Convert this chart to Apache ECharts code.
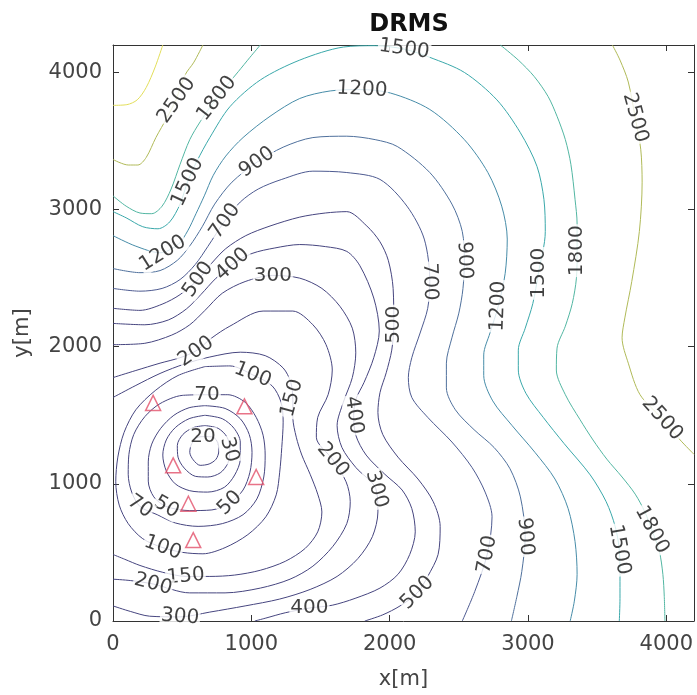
<!DOCTYPE html>
<html>
<head>
<meta charset="utf-8">
<title>DRMS</title>
<script src="https://cdn.jsdelivr.net/npm/echarts@6/dist/echarts.min.js"></script>
<style>
  html, body { margin: 0; padding: 0; background: #fff; }
  #chart { width: 697px; height: 695px; }
</style>
</head>
<body>
<div id="chart"></div>
<script>
// contour lines, [x, y] in metres
const c20 = [[665,1345],[725,1340],[760,1295],[765,1240],[745,1180],[695,1145],[630,1135],[580,1175],[555,1230],[570,1295],[615,1340],[665,1345]];
const c30 = [[665,1425],[760,1405],[825,1340],[845,1245],[830,1150],[775,1080],[685,1050],[595,1055],[515,1115],[470,1195],[465,1280],[505,1360],[580,1410],[665,1425]];
const c40 = [[665,1500],[790,1475],[875,1405],[920,1305],[920,1180],[880,1065],[805,975],[685,940],[555,950],[450,1000],[385,1095],[360,1210],[385,1320],[450,1410],[550,1475],[665,1500]];
const c50 = [[665,1570],[810,1550],[920,1475],[985,1360],[1005,1230],[990,1085],[940,955],[845,860],[715,810],[555,805],[385,835],[295,905],[255,1020],[255,1160],[280,1290],[345,1405],[440,1500],[550,1555],[665,1570]];
const c70 = [[680,1650],[830,1650],[955,1595],[1035,1485],[1085,1355],[1100,1210],[1090,1050],[1040,890],[940,775],[790,710],[615,690],[450,715],[320,775],[195,835],[135,940],[110,1070],[115,1215],[150,1360],[230,1490],[340,1585],[500,1645],[680,1650]];
const c100 = [[665,1855],[845,1860],[1010,1795],[1150,1715],[1215,1595],[1230,1450],[1220,1265],[1205,1085],[1180,920],[1105,760],[975,630],[810,535],[650,490],[505,500],[360,535],[215,600],[110,710],[45,845],[20,1015],[35,1195],[80,1375],[165,1540],[305,1680],[470,1790],[665,1855]];
const c150 = [[0,1630],[160,1715],[340,1805],[520,1875],[700,1925],[920,1960],[1100,1935],[1230,1845],[1285,1740],[1300,1615],[1300,1485],[1325,1340],[1365,1210],[1425,1070],[1480,925],[1510,795],[1480,650],[1390,530],[1245,435],[1065,370],[880,335],[700,325],[530,325],[360,355],[195,405],[85,450],[0,485]];
const c200 = [[0,1775],[160,1825],[340,1880],[485,1920],[600,1970],[715,2065],[845,2150],[1085,2260],[1300,2260],[1445,2160],[1540,2015],[1585,1830],[1555,1650],[1480,1485],[1470,1340],[1590,1175],[1685,1015],[1715,870],[1690,710],[1590,545],[1445,400],[1280,305],[1065,240],[810,205],[555,205],[290,270],[125,295],[0,305]];
const c300 = [[0,2015],[230,2025],[425,2085],[555,2160],[665,2265],[790,2390],[955,2475],[1155,2520],[1350,2500],[1510,2425],[1640,2295],[1730,2135],[1755,1955],[1730,1775],[1665,1595],[1620,1425],[1655,1265],[1755,1120],[1900,965],[1915,795],[1875,615],[1770,455],[1620,325],[1425,230],[1205,160],[955,110],[700,65],[485,30],[265,35],[125,70],[0,110]];
const c400 = [[0,2170],[230,2160],[400,2195],[530,2275],[635,2380],[745,2500],[870,2605],[1005,2680],[1170,2720],[1350,2745],[1535,2730],[1690,2695],[1785,2590],[1885,2355],[1925,2115],[1885,1920],[1815,1740],[1755,1615],[1740,1500],[1755,1355],[1830,1210],[1965,1070],[2090,955],[2160,820],[2185,650],[2145,485],[2060,340],[1930,240],[1750,165],[1585,115],[1425,95],[1245,60],[1100,20],[1025,0]];
const c500 = [[0,2280],[195,2265],[355,2310],[485,2380],[615,2490],[710,2605],[815,2715],[960,2810],[1135,2880],[1350,2945],[1535,2975],[1690,2985],[1835,2880],[1930,2765],[1990,2630],[2025,2425],[2030,2160],[2015,1975],[1975,1810],[1930,1665],[1915,1520],[1950,1360],[2060,1195],[2205,1035],[2315,870],[2365,690],[2350,485],[2275,325],[2200,205],[2075,110],[1950,45],[1820,0]];
const c700 = [[0,2425],[195,2405],[355,2425],[485,2490],[595,2600],[685,2730],[810,2920],[920,3055],[1050,3150],[1220,3220],[1445,3280],[1690,3270],[1930,3220],[2125,3025],[2250,2785],[2290,2475],[2275,2280],[2220,2100],[2160,1920],[2135,1775],[2160,1630],[2275,1485],[2450,1305],[2595,1120],[2690,940],[2740,760],[2705,485],[2615,215],[2525,0]];
const c900 = [[0,2570],[195,2540],[340,2555],[465,2630],[555,2735],[645,2875],[735,3040],[860,3200],[1040,3345],[1230,3455],[1445,3525],[1690,3535],[1895,3510],[2055,3460],[2290,3270],[2450,3040],[2525,2840],[2540,2630],[2530,2425],[2500,2245],[2450,2065],[2410,1880],[2410,1700],[2475,1540],[2610,1395],[2755,1265],[2870,1110],[2945,905],[2980,615],[2955,360],[2920,180],[2880,0]];
const c1200 = [[0,2810],[160,2735],[340,2685],[470,2745],[540,2845],[600,2970],[660,3100],[725,3250],[815,3390],[940,3525],[1135,3680],[1350,3810],[1570,3865],[1785,3875],[2005,3850],[2290,3730],[2540,3510],[2710,3270],[2810,3025],[2850,2785],[2835,2535],[2785,2295],[2725,2100],[2680,1940],[2680,1790],[2745,1605],[2885,1425],[3050,1230],[3195,1035],[3290,820],[3340,580],[3355,340],[3335,145],[3305,0]];
const c1500 = [[0,2985],[95,2940],[215,2875],[325,2860],[410,2910],[485,3040],[540,3205],[605,3350],[700,3525],[845,3750],[1065,3945],[1350,4090],[1665,4185],[1895,4195],[2105,4170],[2290,4110],[2540,4000],[2775,3800],[2945,3560],[3065,3315],[3115,3075],[3125,2840],[3075,2535],[3035,2315],[2980,2135],[2930,1975],[2930,1830],[2985,1660],[3110,1485],[3260,1295],[3450,1065],[3565,870],[3630,690],[3660,520],[3665,325],[3665,165],[3660,0]];
const c1800a = [[1065,4200],[990,4110],[905,4005],[750,3815],[630,3640],[555,3510],[485,3330],[420,3150],[355,3025],[280,2970],[195,2975],[95,3025],[0,3100]];
const c1800b = [[2800,4200],[2930,4090],[3045,3970],[3145,3825],[3210,3680],[3270,3510],[3310,3330],[3340,3075],[3355,2895],[3355,2700],[3350,2500],[3320,2315],[3270,2150],[3210,1990],[3205,1830],[3270,1650],[3375,1470],[3470,1320],[3570,1180],[3680,1050],[3775,925],[3845,795],[3895,665],[3950,505],[3975,340],[3985,180],[3990,0]];
const c2500a = [[650,4200],[585,4075],[520,3980],[455,3800],[390,3670],[310,3525],[240,3380],[180,3325],[110,3325],[0,3365]];
const c2500b = [[3610,4200],[3665,4090],[3725,3930],[3775,3670],[3815,3440],[3825,3200],[3805,2840],[3750,2475],[3700,2210],[3680,2065],[3725,1880],[3810,1650],[3970,1475],[4100,1320],[4200,1215]];
const c3000 = [[360,4200],[305,4040],[240,3890],[175,3800],[100,3765],[0,3760]];

const levels = [20, 30, 40, 50, 70, 100, 150, 200, 300, 400, 500, 700, 900, 1200, 1500, 1800, 1800, 2500, 2500, 3000];
const paths = [c20, c30, c40, c50, c70, c100, c150, c200, c300, c400, c500, c700, c900, c1200, c1500, c1800a, c1800b, c2500a, c2500b, c3000];

// receiver positions (triangles)
const stations = [[290,1590],[950,1565],[435,1135],[1035,1050],[545,855],[580,590]];

// contour labels
const labelPos = [[460,3795],[750,3810],[540,3200],[360,2680],[1040,3345],[810,2915],[615,2490],[865,2600],[1155,2520],
  [600,1965],[1010,1795],[680,1650],[1295,1625],[650,1340],[840,1250],[845,860],[385,830],[195,835],[360,535],
  [525,325],[290,268],[485,30],[1420,95],[1590,1175],[1740,1500],[1905,960],[2200,205],[2705,485],[2980,615],
  [3660,520],[3895,665],[3970,1475],[3775,3670],[3355,2700],[3075,2535],[2785,2295],[2540,2630],[2290,2475],
  [2030,2160],[1800,3875],[2105,4170]];
const labelText = ['2500','1800','1500','1200','900','700','500','400','300',
  '200','100','70','150','20','30','50','50','70','100',
  '150','200','300','400','200','400','300','500','700','900',
  '1500','1800','2500','2500','1800','1500','1200','900','700',
  '500','1200','1500'];
const labelAngle = [55,52,65,32,35,55,55,42,0,
  35,-22,0,75,0,-75,45,-30,-35,-20,
  5,-15,-5,0,-50,-82,-75,45,80,-85,
  -80,-62,-48,-75,90,90,88,-88,-88,
  90,-3,-8];

const levelColor = {700: '#4d5a90', 900: '#4f709c', 1200: '#478ca8', 1500: '#3aa8aa', 1800: '#52b6a2', 2500: '#b0ba58', 3000: '#e2de5a'};
function colorOf(v) {
  return v <= 500 ? '#46457f' : levelColor[v];
}

const chart = echarts.init(document.getElementById('chart'));

const series = paths.map(function(p, i) {
  return {
    type: 'line',
    data: p,
    smooth: 0.3,
    showSymbol: false,
    silent: true,
    z: 2,
    lineStyle: { color: colorOf(levels[i]), width: 1 }
  };
});

series.push({
  type: 'scatter',
  data: labelPos.map(function(p, i) {
    return { name: labelText[i], value: p, label: { rotate: labelAngle[i] } };
  }),
  symbol: 'circle',
  symbolSize: 1,
  itemStyle: { color: 'rgba(0,0,0,0)' },
  z: 4,
  label: {
    show: true,
    position: 'inside',
    formatter: '{b}',
    color: '#111',
    fontSize: 20,
    fontFamily: 'DejaVu Sans',
    backgroundColor: '#fff',
    padding: [0, 1]
  }
});

series.push({
  type: 'scatter',
  data: stations,
  symbol: 'triangle',
  symbolSize: 15,
  z: 5,
  itemStyle: { color: 'rgba(255,255,255,0)', borderColor: '#e2506a', borderWidth: 1.5 }
});

const axisCommon = {
  type: 'value',
  min: 0,
  max: 4200,
  interval: 1000,
  axisLine: { show: true, onZero: false, lineStyle: { color: '#333', width: 1 } },
  axisTick: { show: true, inside: true, length: 6, lineStyle: { color: '#333' } },
  splitLine: { show: false }
};

chart.setOption({
  animation: false,
  textStyle: { fontFamily: 'DejaVu Sans' },
  title: {
    text: 'DRMS',
    left: 404,
    top: 8,
    textAlign: 'center',
    textStyle: { fontSize: 24, fontWeight: 'bold', color: '#111' }
  },
  grid: { left: 113, right: 3, top: 45, bottom: 70 },
  xAxis: [
    Object.assign({}, axisCommon, {
      position: 'bottom',
      name: 'x[m]',
      nameLocation: 'middle',
      nameGap: 48,
      nameTextStyle: { fontSize: 21, color: '#444' },
      axisLabel: {
        fontSize: 21, color: '#444', margin: 13, showMaxLabel: false,
        formatter: function(v) { return v % 1000 === 0 ? v : ''; }
      }
    }),
    Object.assign({}, axisCommon, { position: 'top', axisLabel: { show: false } })
  ],
  yAxis: [
    Object.assign({}, axisCommon, {
      position: 'left',
      name: 'y[m]',
      nameLocation: 'middle',
      nameGap: 80,
      nameTextStyle: { fontSize: 21, color: '#444' },
      axisLabel: {
        fontSize: 21, color: '#444', margin: 11, showMaxLabel: false,
        formatter: function(v) { return v % 1000 === 0 ? v : ''; }
      }
    }),
    Object.assign({}, axisCommon, { position: 'right', axisLabel: { show: false } })
  ],
  series: series
});
</script>
</body>
</html>
